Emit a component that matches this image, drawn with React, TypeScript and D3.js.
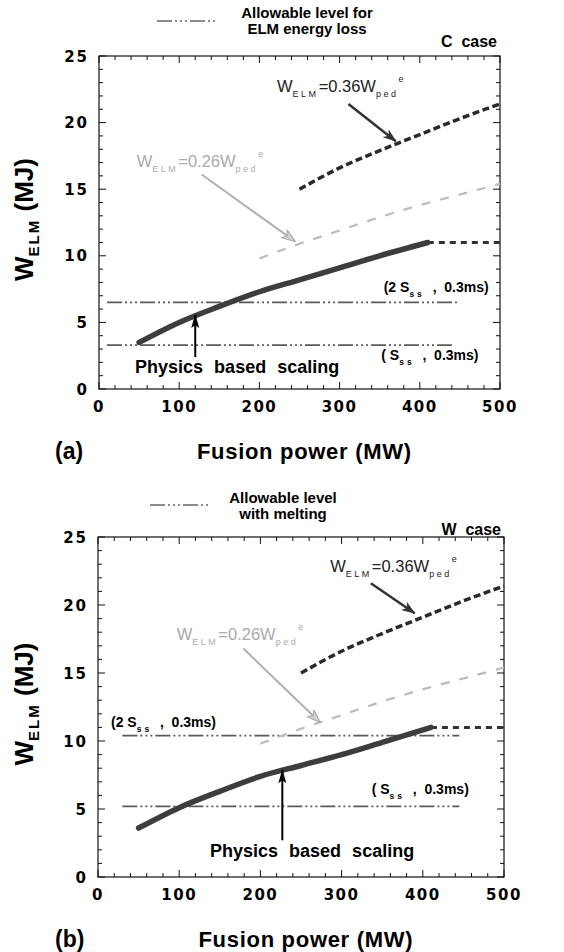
import React from 'react';
import * as d3 from 'd3';

type Pt = [number, number];

// axes: fusion power (MW) vs W_ELM (MJ)
const xTicks = [0, 100, 200, 300, 400, 500];
const yTicks = [0, 5, 10, 15, 20, 25];

// physics based scaling (solid) and its flat continuation (dashed)
const physicsC: Pt[] = [[50, 3.5], [100, 5.0], [150, 6.2], [200, 7.3], [250, 8.2], [300, 9.1], [350, 10.0], [410, 11.0]];
const physicsW: Pt[] = [[50, 3.6], [100, 5.1], [150, 6.3], [200, 7.4], [250, 8.2], [300, 9.0], [350, 9.9], [410, 11.0]];
const physicsTail: Pt[] = [[410, 11.0], [455, 11.0], [500, 11.0]];

// W_ELM = 0.36 W_ped^e and 0.26 W_ped^e
const ped036: Pt[] = [[250, 15.0], [300, 16.6], [350, 17.9], [400, 19.1], [450, 20.3], [500, 21.4]];
const ped026: Pt[] = [[200, 9.8], [250, 10.9], [300, 11.9], [350, 12.9], [400, 13.8], [450, 14.6], [500, 15.4]];

// allowable levels (2 S_ss and S_ss, 0.3 ms)
const allowC2: Pt[] = [[10, 6.5], [450, 6.5]];
const allowC1: Pt[] = [[10, 3.3], [440, 3.3]];
const allowW2: Pt[] = [[30, 10.4], [445, 10.4]];
const allowW1: Pt[] = [[30, 5.2], [445, 5.2]];

const SANS = '"Liberation Sans", Arial, Helvetica, sans-serif';
const WIDE = '"DejaVu Sans", Verdana, sans-serif';

const ALLOW_DASH = '15,3,2,3,2,3,2,3';

const Wnote = ({ x, y, coef, fill }: { x: number; y: number; coef: string; fill: string }) => (
  <text x={x} y={y} fill={fill} fontFamily={SANS} fontSize={16.5}>
    W
    <tspan fontSize={9} dy={5} letterSpacing={2.5}>ELM</tspan>
    <tspan dy={-5}>{`=${coef}W`}</tspan>
    <tspan fontSize={9} dy={5} letterSpacing={2.5}>ped</tspan>
    <tspan fontSize={9} dy={-15}>e</tspan>
  </text>
);

const SsLabel = ({ x, y, two }: { x: number; y: number; two: boolean }) => (
  <text x={x} y={y} fontFamily={SANS} fontWeight="bold" fontSize={14} style={{ whiteSpace: 'pre' }}>
    {two ? '(2 S' : '( S'}
    <tspan fontSize={8.5} dy={5} letterSpacing={3}>ss</tspan>
    <tspan dy={-5}>{'  ,  0.3ms)'}</tspan>
  </text>
);

type Anchor = Pt;

type PanelProps = {
  left: number;
  top: number;
  width: number;
  height: number;
  physics: Pt[];
  allow2: Pt[];
  allow1: Pt[];
  legend: string[];
  legendLeft: number;
  legendMid: number;
  caseLabel: string;
  tag: string;
  note036: Anchor;
  arrow036: [Anchor, Anchor];
  note026: Anchor;
  arrow026: [Anchor, Anchor];
  label2: Anchor;
  label1: Anchor;
  physicsNote: Anchor;
  physicsArrow: [Anchor, Anchor];
  headY: number[];
};

const Panel = (p: PanelProps) => {
  const x = d3.scaleLinear().domain([0, 500]).range([0, p.width]);
  const y = d3.scaleLinear().domain([0, 25]).range([p.height, 0]);
  const line = d3.line<Pt>().x(d => x(d[0])).y(d => y(d[1])).curve(d3.curveMonotoneX);
  const minorX = x.ticks(25);
  const minorY = y.ticks(25);

  return (
    <g transform={`translate(${p.left},${p.top})`}>
      {/* title block */}
      <line x1={p.legendLeft} x2={p.legendLeft + 58} y1={p.headY[0]} y2={p.headY[0]}
        stroke="#666" strokeWidth={1.6} strokeDasharray={ALLOW_DASH} />
      {p.legend.map((t, i) => (
        <text key={t} x={p.legendMid} y={p.headY[1 + i]} textAnchor="middle" fontFamily={SANS}
          fontWeight="bold" fontSize={15}>{t}</text>
      ))}
      <text x={p.width - 3} y={p.headY[3]} textAnchor="end" fontFamily={SANS} fontWeight="bold"
        fontSize={16} style={{ whiteSpace: 'pre' }}>{p.caseLabel}</text>

      {/* frame and ticks */}
      <rect x={0} y={0} width={p.width} height={p.height} fill="none" stroke="#111" strokeWidth={1.2} />
      {minorX.map(v => {
        const len = v % 100 === 0 ? 7 : 4;
        return (
          <g key={`x${v}`} stroke="#111" strokeWidth={1}>
            <line x1={x(v)} x2={x(v)} y1={p.height} y2={p.height - len} />
            <line x1={x(v)} x2={x(v)} y1={0} y2={len} />
          </g>
        );
      })}
      {minorY.map(v => {
        const len = v % 5 === 0 ? 7 : 4;
        return (
          <g key={`y${v}`} stroke="#111" strokeWidth={1}>
            <line x1={0} x2={len} y1={y(v)} y2={y(v)} />
            <line x1={p.width} x2={p.width - len} y1={y(v)} y2={y(v)} />
          </g>
        );
      })}
      {xTicks.map(v => (
        <text key={`xl${v}`} x={x(v)} y={p.height + 23} textAnchor="middle" fontFamily={WIDE}
          fontWeight="bold" fontSize={15} letterSpacing={1.5}>{v}</text>
      ))}
      {yTicks.map(v => (
        <text key={`yl${v}`} x={-10} y={y(v) + 5.5} textAnchor="end" fontFamily={WIDE}
          fontWeight="bold" fontSize={15} letterSpacing={2}>{v}</text>
      ))}

      {/* axis titles */}
      <text transform={`translate(${33 - p.left},${p.height / 2 - 3}) rotate(-90)`} textAnchor="middle"
        fontFamily={SANS} fontWeight="bold" fontSize={26}>
        W
        <tspan fontSize={15} dy={6} letterSpacing={2}>ELM</tspan>
        <tspan dy={-6}>{' (MJ)'}</tspan>
      </text>
      <text x={55 - p.left} y={p.height + 70} fontFamily={SANS} fontWeight="bold" fontSize={23}>{p.tag}</text>
      <text x={x(256)} y={p.height + 70} textAnchor="middle" fontFamily={SANS} fontWeight="bold"
        fontSize={22} letterSpacing={0.7}>Fusion power (MW)</text>

      {/* allowable levels */}
      <path d={line(p.allow2) ?? ''} fill="none" stroke="#5a5a5a" strokeWidth={1.8} strokeDasharray={ALLOW_DASH} />
      <path d={line(p.allow1) ?? ''} fill="none" stroke="#5a5a5a" strokeWidth={1.8} strokeDasharray={ALLOW_DASH} />

      {/* pedestal fractions */}
      <path d={line(ped026) ?? ''} fill="none" stroke="#bbb" strokeWidth={2.2} strokeDasharray="9,10" />
      <path d={line(ped036) ?? ''} fill="none" stroke="#2a2a2a" strokeWidth={3.5} strokeDasharray="7,3.5" />

      {/* physics based scaling */}
      <path d={line(physicsTail) ?? ''} fill="none" stroke="#333" strokeWidth={3} strokeDasharray="6,5" />
      <path d={line(p.physics) ?? ''} fill="none" stroke="#3d3d3d" strokeWidth={5.5} strokeLinecap="round" />

      {/* annotations */}
      <Wnote x={x(p.note036[0])} y={y(p.note036[1])} coef="0.36" fill="#222" />
      <line x1={x(p.arrow036[0][0])} y1={y(p.arrow036[0][1])} x2={x(p.arrow036[1][0])} y2={y(p.arrow036[1][1])}
        stroke="#333" strokeWidth={2.5} markerEnd="url(#headDark)" />
      <Wnote x={x(p.note026[0])} y={y(p.note026[1])} coef="0.26" fill="#aaa" />
      <line x1={x(p.arrow026[0][0])} y1={y(p.arrow026[0][1])} x2={x(p.arrow026[1][0])} y2={y(p.arrow026[1][1])}
        stroke="#b0b0b0" strokeWidth={2} markerEnd="url(#headGray)" />
      <SsLabel x={x(p.label2[0])} y={y(p.label2[1])} two={true} />
      <SsLabel x={x(p.label1[0])} y={y(p.label1[1])} two={false} />
      <text x={x(p.physicsNote[0])} y={y(p.physicsNote[1])} fontFamily={SANS} fontWeight="bold"
        fontSize={18} wordSpacing={6}>Physics based scaling</text>
      <line x1={x(p.physicsArrow[0][0])} y1={y(p.physicsArrow[0][1])} x2={x(p.physicsArrow[1][0])}
        y2={y(p.physicsArrow[1][1])} stroke="#000" strokeWidth={2} markerEnd="url(#headBlack)" />
    </g>
  );
};

export default function App() {
  return (
    <svg width={564} height={952} style={{ position: 'absolute', left: 0, top: 0 }}>
      <defs>
        <marker id="headDark" viewBox="0 0 14 10" refX={13} refY={5} markerWidth={14} markerHeight={10}
          markerUnits="userSpaceOnUse" orient="auto">
          <path d="M0,0 L14,5 L0,10 L4,5 Z" fill="#333" />
        </marker>
        <marker id="headGray" viewBox="0 0 14 10" refX={13} refY={5} markerWidth={14} markerHeight={10}
          markerUnits="userSpaceOnUse" orient="auto">
          <path d="M0,0 L14,5 L0,10 L4,5 Z" fill="#d0d0d0" stroke="#a8a8a8" strokeWidth={1} />
        </marker>
        <marker id="headBlack" viewBox="0 0 14 8" refX={13} refY={4} markerWidth={14} markerHeight={8}
          markerUnits="userSpaceOnUse" orient="auto">
          <path d="M0,0 L14,4 L0,8 L3,4 Z" fill="#000" />
        </marker>
      </defs>
      <rect width={564} height={952} fill="#fff" />
      <Panel
        left={99} top={56} width={401} height={333}
        physics={physicsC} allow2={allowC2} allow1={allowC1}
        legend={['Allowable level for', 'ELM energy loss']} legendLeft={58} legendMid={208}
        caseLabel="C  case" tag="(a)"
        note036={[222, 22.3]} arrow036={[[311, 21.4], [370, 18.6]]}
        note026={[47, 16.7]} arrow026={[[128, 16.1], [244, 11.1]]}
        label2={[355, 7.3]} label1={[352, 2.2]}
        physicsNote={[45, 1.2]} physicsArrow={[[120, 2.4], [120, 5.55]]}
        headY={[-35, -38, -22, -9]}
      />
      <Panel
        left={98} top={537} width={406} height={340}
        physics={physicsW} allow2={allowW2} allow1={allowW1}
        legend={['Allowable level', 'with melting']} legendLeft={52} legendMid={185}
        caseLabel="W  case" tag="(b)"
        note036={[286, 22.4]} arrow036={[[336, 21.6], [390, 19.4]]}
        note026={[97, 17.45]} arrow026={[[179, 16.8], [273, 11.4]]}
        label2={[16, 11.0]} label1={[337, 6.1]}
        physicsNote={[138, 1.5]} physicsArrow={[[227, 2.7], [227, 7.85]]}
        headY={[-32, -34, -18, -2]}
      />
    </svg>
  );
}
